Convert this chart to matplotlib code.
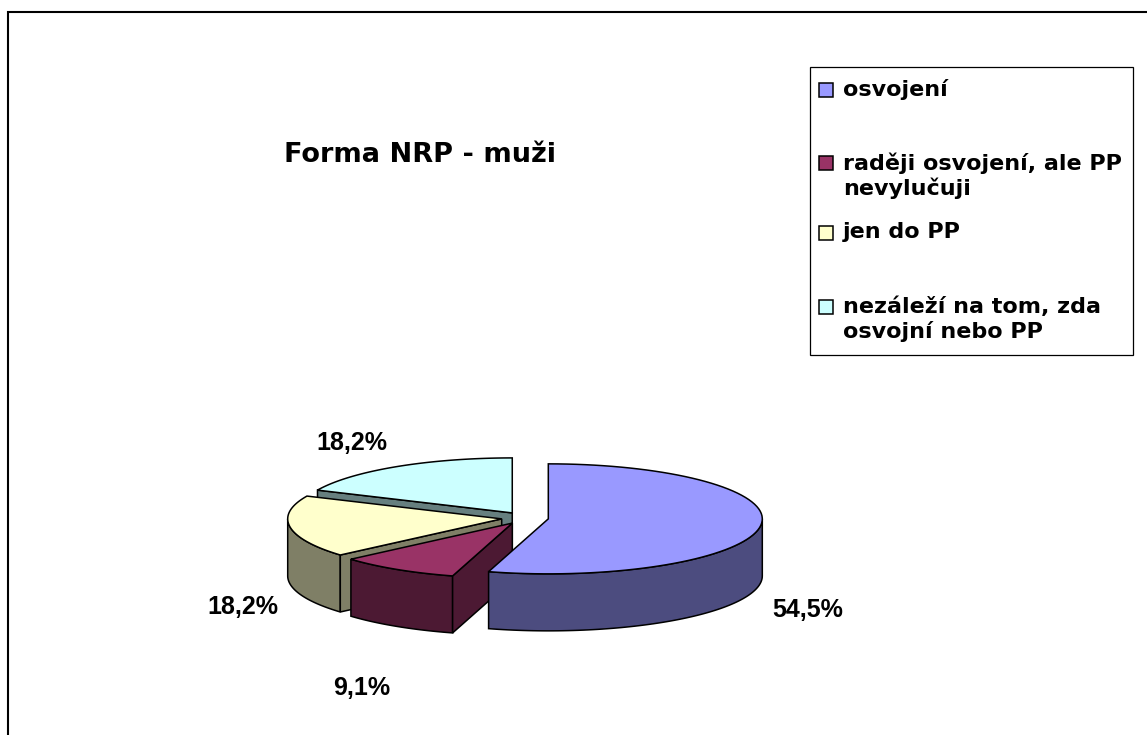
import numpy as np
import matplotlib
matplotlib.use("Agg")
import matplotlib.pyplot as plt
from matplotlib.patches import Polygon, Rectangle

# ---- data ----
categories = ["osvojení",
              "raději osvojení, ale PP\nnevylučuji",
              "jen do PP",
              "nezáleží na tom, zda\nosvojní nebo PP"]
values = [54.5, 9.1, 18.2, 18.2]
title = "Forma NRP - muži"

top_colors = ["#9999FF", "#993366", "#FFFFCC", "#CCFFFF"]
side_colors = ["#4C4C7F", "#4C1933", "#7F7F66", "#667F7F"]

# ---- layout (pixel space) ----
W, H = 1147, 735
fig = plt.figure(figsize=(W / 100, H / 100), dpi=100)
ax = fig.add_axes([0, 0, 1, 1])
ax.set_xlim(0, W)
ax.set_ylim(H, 0)
ax.axis("off")

cx, cy = 525, 518
rx, ry = 214, 55
depth = 57
explode = 0.11
lw = 1.1

def pt(ox, oy, t, dz=0.0):
    r = np.radians(t)
    return ox + rx * np.cos(r), oy - ry * np.sin(r) + dz

def arc(ox, oy, a, b, dz=0.0, n=80):
    ts = np.linspace(a, b, n)
    r = np.radians(ts)
    return np.column_stack([ox + rx * np.cos(r), oy - ry * np.sin(r) + dz])

total = float(sum(values))
slices = []
start = 90.0
for v in values:
    hi = start
    lo = start - v / total * 360.0
    mid = np.radians((hi + lo) / 2)
    ox = cx + explode * rx * np.cos(mid)
    oy = cy - explode * ry * np.sin(mid)
    slices.append((hi, lo, ox, oy))
    start = lo

def draw_slice(i):
    hi, lo, ox, oy = slices[i]
    sc = side_colors[i]
    # outer wall, front half (angles between -180 and 0)
    a, b = max(lo, -180.0), min(hi, 0.0)
    if b > a:
        topa = arc(ox, oy, b, a)
        bot = arc(ox, oy, a, b, depth)
        ax.add_patch(Polygon(np.vstack([topa, bot]), closed=True, fc=sc, ec="black",
                             lw=lw, joinstyle="miter", zorder=2))
    # radial faces
    faces = []
    if np.cos(np.radians(hi)) < -1e-6:
        faces.append(hi)
    if np.cos(np.radians(lo)) > 1e-6:
        faces.append(lo)
    for f in faces:
        p = pt(ox, oy, f)
        poly = [(ox, oy), p, (p[0], p[1] + depth), (ox, oy + depth)]
        ax.add_patch(Polygon(poly, closed=True, fc=sc, ec="black", lw=lw,
                             joinstyle="miter", zorder=2))
    # top face
    top = np.vstack([[ox, oy], arc(ox, oy, hi, lo)])
    ax.add_patch(Polygon(top, closed=True, fc=top_colors[i], ec="black", lw=lw,
                         joinstyle="miter", zorder=2))

for i in [3, 2, 1, 0]:
    draw_slice(i)

# ---- percentage labels ----
label_xy = [(808, 610), (362, 688), (243, 607), (352, 443)]
for v, (x, y) in zip(values, label_xy):
    ax.text(x, y, f"{v:.1f}".replace(".", ",") + "%", ha="center", va="center",
            fontsize=18, fontweight="bold", family="Liberation Sans", color="black")

# ---- title ----
ax.text(420, 155, title, ha="center", va="center", fontsize=19.5,
        fontweight="bold", family="DejaVu Sans", color="black")

# ---- legend ----
ax.add_patch(Rectangle((810, 67), 323, 288, fc="white", ec="black", lw=0.9, zorder=3))
leg_y = [90, 163, 233, 307]
for i, (lab, y) in enumerate(zip(categories, leg_y)):
    ax.add_patch(Rectangle((819, y - 7), 14, 14, fc=top_colors[i], ec="black", lw=1.1, zorder=4))
    ax.text(843, y - 11, lab, ha="left", va="top", fontsize=16, fontweight="bold",
            family="DejaVu Sans", color="black", linespacing=1.25, zorder=5)

# ---- outer border (extends past right/bottom edges) ----
ax.plot([8, 8, W + 20], [H + 20, 12, 12], color="black", lw=1.5, clip_on=False,
        solid_joinstyle="miter", zorder=1)

fig.savefig("out.png", dpi=100, facecolor="white")
